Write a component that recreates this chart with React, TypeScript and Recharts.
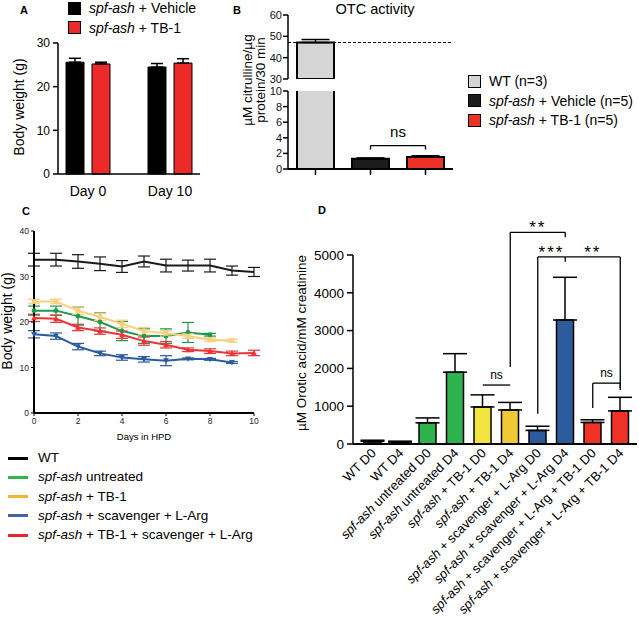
import React from "react";
import { Bar, BarChart, Cell, ErrorBar, Line, LineChart, ReferenceLine, XAxis, YAxis } from "recharts";

const FONT = '"Liberation Sans", Arial, Helvetica, sans-serif';

// A: body weight, day 0 vs day 10
const daysA = ["Day 0", "Day 10"];
const vehicleA = [25.6, 24.5];
const vehicleErrA = [0.9, 0.8];
const tb1A = [25.2, 25.4];
const tb1ErrA = [0.4, 1.0];

// B: OTC activity
const groupsB = ["WT (n=3)", "spf-ash + Vehicle (n=5)", "spf-ash + TB-1 (n=5)"];
const otcB = [47.1, 1.32, 1.55];
const otcErrB = [1.4, 0.1, 0.15];
const ticksBHigh = [30, 40, 50, 60];
const ticksBLow = [0, 2, 4, 6, 8, 10];

// C: body weight over days in HPD
const daysC = [0, 1, 2, 3, 4, 5, 6, 7, 8, 9, 10];
const wtC = [33.7, 33.7, 33.3, 32.8, 32.2, 33.3, 32.4, 32.4, 32.4, 31.3, 31.0];
const wtErrC = [1.4, 1.4, 1.5, 1.5, 1.3, 1.2, 1.4, 1.2, 1.4, 1.0, 1.0];
const untreatedC = [22.5, 22.5, 21.3, 20.0, 18.0, 16.9, 16.9, 17.7, 17.2];
const untreatedErrC = [1.0, 1.0, 2.0, 2.0, 2.1, 1.6, 1.6, 2.2, 0.3];
const tb1C = [24.5, 24.5, 22.5, 21.1, 19.6, 18.0, 17.5, 16.9, 16.1, 15.9];
const tb1ErrC = [0.5, 0.5, 0.8, 0.8, 0.8, 0.8, 0.6, 0.5, 0.4, 0.3];
const scavC = [17.3, 16.9, 14.6, 13.1, 12.2, 11.8, 11.5, 11.9, 11.8, 11.1];
const scavErrC = [0.8, 0.7, 0.7, 0.5, 0.6, 0.6, 1.1, 0.2, 0.2, 0.2];
const comboC = [20.9, 20.7, 18.8, 18.0, 17.2, 15.8, 15.0, 13.9, 13.6, 13.1, 13.2];
const comboErrC = [0.8, 0.8, 0.7, 0.7, 0.8, 0.9, 0.7, 0.4, 0.5, 0.5, 0.6];
const namesC = [
  "WT",
  "spf-ash untreated",
  "spf-ash + TB-1",
  "spf-ash + scavenger + L-Arg",
  "spf-ash + TB-1 + scavenger + L-Arg",
];

// D: urinary orotic acid
const labelsD = [
  "WT D0",
  "WT D4",
  "spf-ash untreated D0",
  "spf-ash untreated D4",
  "spf-ash + TB-1 D0",
  "spf-ash + TB-1 D4",
  "spf-ash + scavenger + L-Arg D0",
  "spf-ash + scavenger + L-Arg D4",
  "spf-ash + scavenger + L-Arg + TB-1 D0",
  "spf-ash + scavenger + L-Arg + TB-1 D4",
];
const oroticD = [70, 50, 560, 1900, 980, 900, 360, 3280, 570, 875];
const oroticErrD = [30, 25, 130, 490, 320, 200, 110, 1130, 70, 360];
// comparisons: bar a, bar b, bracket level, foot at a, foot at b
const sigD = [
  { a: 4, b: 5, top: 1560, footA: 1560, footB: 1560, text: "ns" },
  { a: 5, b: 7, top: 5600, footA: 2040, footB: 5470, text: "**" },
  { a: 6, b: 7, top: 4950, footA: 800, footB: 4820, text: "***" },
  { a: 7, b: 9, top: 4950, footA: 4950, footB: 1480, text: "**" },
  { a: 8, b: 9, top: 1610, footA: 950, footB: 1430, text: "ns" },
];

const RED = "#ec2a2a";
const colorsB = ["#d5d5d5", "#1c1c1c", "#ec3226"];
const colorsD = ["#231f20", "#231f20", "#2db34b", "#2db34b", "#f2e43c", "#f0ca35", "#2d5c9d", "#2d5c9d", "#ee3326", "#ee3326"];

function Spf({ text }: { text: string }) {
  if (!text.startsWith("spf-ash")) return <>{text}</>;
  return (
    <>
      <i>spf-ash</i>
      {text.slice(7)}
    </>
  );
}

const rotLabel = (lines: string[], x: number, y: number, size: number) => () => (
  <g>
    {lines.map((t, i) => {
      const lx = x + i * size * 0.95;
      return (
        <text key={i} x={lx} y={y} transform={`rotate(-90 ${lx} ${y})`} textAnchor="middle" fontSize={size} fill="#000">
          {t}
        </text>
      );
    })}
  </g>
);

// plain y tick, drawn by hand so none get dropped
function SmallYTick({ x, y, payload }: any) {
  return (
    <text x={x} y={y} dy={4} textAnchor="end" fontSize={11} fill="#111">
      {payload.value}
    </text>
  );
}

function RotTick({ x, y, payload }: any) {
  const label: string = payload.value;
  const spf = label.startsWith("spf-ash");
  return (
    <g transform={`translate(${x + 4},${y + 4})`}>
      <text textAnchor="end" transform="rotate(-45)" fontSize={13} fill="#000" style={{ whiteSpace: "pre" }}>
        {spf ? (
          <>
            <tspan fontStyle="italic">spf-ash</tspan>
            <tspan>{label.slice(7)}</tspan>
          </>
        ) : (
          label
        )}
      </text>
    </g>
  );
}

function Marker({ cx, cy, color, shape }: any) {
  if (cx == null || cy == null) return null;
  const s = 2.4;
  if (shape === "square") return <rect x={cx - s} y={cy - s} width={2 * s} height={2 * s} fill={color} />;
  if (shape === "up") return <path d={`M${cx},${cy - s - 0.5}L${cx + s + 0.5},${cy + s}L${cx - s - 0.5},${cy + s}Z`} fill={color} />;
  if (shape === "down") return <path d={`M${cx},${cy + s + 0.5}L${cx + s + 0.5},${cy - s}L${cx - s - 0.5},${cy - s}Z`} fill={color} />;
  if (shape === "none") return <g />;
  return <circle cx={cx} cy={cy} r={s} fill={color} />;
}

const AX = { stroke: "#000", strokeWidth: 1.5 };

function PanelA() {
  const data = daysA.map((day, i) => ({
    day,
    vehicle: vehicleA[i],
    vehicleErr: [0, vehicleErrA[i]],
    tb1: tb1A[i],
    tb1Err: [0, tb1ErrA[i]],
  }));
  return (
    <div style={{ position: "absolute", left: 0, top: 0 }}>
      <BarChart width={215} height={205} data={data} margin={{ top: 43, right: 15, bottom: 0, left: 0 }} barGap={8} barSize={18}>
        <XAxis
          dataKey="day"
          interval={0}
          tickLine={false}
          axisLine={AX}
          tick={{ fontSize: 14, fill: "#000" }}
          tickSize={0}
          tickMargin={12}
          height={31}
          padding={{ left: -11, right: -11 }}
        />
        <YAxis
          domain={[0, 30]}
          ticks={[0, 10, 20, 30]}
          interval={0}
          width={58}
          tickSize={5}
          tickMargin={3}
          tick={{ fontSize: 12, fill: "#000" }}
          axisLine={AX}
          tickLine={AX}
          label={rotLabel(["Body weight (g)"], 24, 107, 14)}
        />
        <Bar dataKey="vehicle" fill="#000" stroke="#000" strokeWidth={1} isAnimationActive={false}>
          <ErrorBar dataKey="vehicleErr" direction="y" width={6} stroke="#000" strokeWidth={1.5} />
        </Bar>
        <Bar dataKey="tb1" fill={RED} stroke="#000" strokeWidth={1} isAnimationActive={false}>
          <ErrorBar dataKey="tb1Err" direction="y" width={6} stroke="#000" strokeWidth={1.5} />
        </Bar>
      </BarChart>
    </div>
  );
}

// broken axis: two stacked charts that share the categories
function PanelB() {
  const data = groupsB.map((g, i) => ({
    g,
    lower: otcB[i],
    upper: otcB[i] >= 30 ? otcB[i] : null,
    err: [0, otcErrB[i]],
  }));
  const bracket = { stroke: "#000", strokeWidth: 1.3 };
  return (
    <>
      <div style={{ position: "absolute", left: 220, top: 0 }}>
        <BarChart width={245} height={85} data={data} margin={{ top: 15, right: 12, bottom: 6, left: 0 }} barSize={37}>
          <XAxis dataKey="g" hide />
          <YAxis
            type="number"
            domain={[30, 60]}
            ticks={ticksBHigh}
            interval={0}
            minTickGap={0}
            allowDataOverflow
            width={68}
            tickSize={5}
            tickMargin={1}
            tick={(p: any) => <SmallYTick {...p} />}
            axisLine={AX}
            tickLine={AX}
          />
          <Bar dataKey="upper" stroke="#000" strokeWidth={2} isAnimationActive={false}>
            {data.map((d, i) => (
              <Cell key={i} fill={colorsB[i]} />
            ))}
            <ErrorBar dataKey="err" direction="y" width={14} stroke="#000" strokeWidth={1.5} />
          </Bar>
          <ReferenceLine y={otcB[0]} stroke="#000" strokeWidth={1.2} strokeDasharray="3 2" />
        </BarChart>
      </div>
      <div style={{ position: "absolute", left: 220, top: 85 }}>
        <BarChart width={245} height={115} data={data} margin={{ top: 6, right: 12, bottom: 0, left: 0 }} barSize={37}>
          <XAxis
            dataKey="g"
            interval={0}
            height={31}
            tickSize={6}
            tickFormatter={() => ""}
            tickLine={AX}
            axisLine={{ stroke: "#000", strokeWidth: 2 }}
          />
          <YAxis
            type="number"
            domain={[0, 10]}
            ticks={ticksBLow}
            interval={0}
            minTickGap={0}
            allowDataOverflow
            width={68}
            tickSize={5}
            tickMargin={1}
            tick={(p: any) => <SmallYTick {...p} />}
            axisLine={AX}
            tickLine={AX}
          />
          <Bar dataKey="lower" stroke="#000" strokeWidth={2} isAnimationActive={false}>
            {data.map((d, i) => (
              <Cell key={i} fill={colorsB[i]} />
            ))}
            <ErrorBar dataKey="err" direction="y" width={14} stroke="#000" strokeWidth={1.5} />
          </Bar>
          <ReferenceLine segment={[{ x: groupsB[1], y: 2.5 }, { x: groupsB[1], y: 3 }]} {...bracket} />
          <ReferenceLine segment={[{ x: groupsB[2], y: 2.5 }, { x: groupsB[2], y: 3 }]} {...bracket} />
          <ReferenceLine
            segment={[{ x: groupsB[1], y: 3 }, { x: groupsB[2], y: 3 }]}
            {...bracket}
            label={{ value: "ns", position: "top", offset: 9, fontSize: 15, fill: "#000" }}
          />
        </BarChart>
      </div>
      {/* axis title spans both halves of the broken axis */}
      <div
        style={{
          position: "absolute",
          left: 254,
          top: 80,
          transform: "translate(-50%, -50%) rotate(-90deg)",
          fontSize: 13.5,
          lineHeight: "13px",
          textAlign: "center",
          whiteSpace: "nowrap",
        }}
      >
        µM citrulline/µg
        <br />
        protein/30 min
      </div>
    </>
  );
}

function PanelC() {
  const build = (vals: number[], errs: number[]) => vals.map((v, i) => ({ day: daysC[i], v, e: errs[i] }));
  const series = [
    { data: build(wtC, wtErrC), color: "#1a1a1a", shape: "none" },
    { data: build(untreatedC, untreatedErrC), color: "#1d9a4a", shape: "circle" },
    { data: build(tb1C, tb1ErrC), color: "#fbcf7c", shape: "square" },
    { data: build(scavC, scavErrC), color: "#2b5c9f", shape: "down" },
    { data: build(comboC, comboErrC), color: "#ec3237", shape: "up" },
  ];
  const tick = { fontSize: 8.5, fill: "#222" };
  return (
    <div style={{ position: "absolute", left: 0, top: 205 }}>
      <LineChart width={265} height={245} margin={{ top: 26, right: 11, bottom: 0, left: 0 }}>
        <XAxis
          type="number"
          dataKey="day"
          domain={[0, 10]}
          ticks={[0, 2, 4, 6, 8, 10]}
          interval={0}
          height={37}
          tickSize={3}
          tickMargin={2}
          tick={tick}
          axisLine={{ stroke: "#000", strokeWidth: 2 }}
          tickLine={{ stroke: "#000", strokeWidth: 1 }}
          label={{ value: "Days in HPD", position: "insideBottom", offset: 10, fontSize: 9.5, fill: "#000" }}
        />
        <YAxis
          domain={[0, 40]}
          ticks={[0, 10, 20, 30, 40]}
          interval={0}
          width={34}
          tickSize={3}
          tickMargin={2}
          tick={tick}
          axisLine={{ stroke: "#000", strokeWidth: 2 }}
          tickLine={{ stroke: "#000", strokeWidth: 1 }}
          label={rotLabel(["Body weight (g)"], 12, 116, 14)}
        />
        {series.map((s, k) => (
          <Line
            key={k}
            data={s.data}
            dataKey="v"
            type="linear"
            stroke={s.color}
            strokeWidth={2}
            dot={(p: any) => <Marker key={p.index} cx={p.cx} cy={p.cy} color={s.color} shape={s.shape} />}
            isAnimationActive={false}
          >
            <ErrorBar dataKey="e" direction="y" width={6} stroke={s.color} strokeWidth={1.2} />
          </Line>
        ))}
      </LineChart>
    </div>
  );
}

function PanelD() {
  const data = labelsD.map((name, i) => ({ name, v: oroticD[i], err: [0, oroticErrD[i]] }));
  const line = { stroke: "#000", strokeWidth: 1.3, ifOverflow: "visible" as const };
  return (
    <div style={{ position: "absolute", left: 290, top: 205 }}>
      <BarChart width={349} height={428} data={data} margin={{ top: 50, right: 2, bottom: 0, left: 0 }} barSize={17}>
        <XAxis
          dataKey="name"
          interval={0}
          height={189}
          tickSize={0}
          tickMargin={6}
          tickLine={false}
          axisLine={{ stroke: "#000", strokeWidth: 2 }}
          tick={(p: any) => <RotTick {...p} />}
          padding={{ left: 6, right: 3 }}
        />
        <YAxis
          domain={[0, 5000]}
          ticks={[0, 1000, 2000, 3000, 4000, 5000]}
          interval={0}
          width={63}
          tickSize={6}
          tickMargin={3}
          tick={{ fontSize: 13.5, fill: "#000" }}
          axisLine={AX}
          tickLine={AX}
          label={rotLabel(["µM Orotic acid/mM creatinine"], 16, 138, 13.5)}
        />
        <Bar dataKey="v" stroke="#000" strokeWidth={1.5} isAnimationActive={false}>
          {data.map((d, i) => (
            <Cell key={i} fill={colorsD[i]} />
          ))}
          <ErrorBar dataKey="err" direction="y" width={12} stroke="#000" strokeWidth={1.5} />
        </Bar>
        {sigD.map((s, k) => {
          const stars = s.text !== "ns";
          return (
            <React.Fragment key={k}>
              {s.footA !== s.top && (
                <ReferenceLine segment={[{ x: labelsD[s.a], y: s.footA }, { x: labelsD[s.a], y: s.top }]} {...line} />
              )}
              <ReferenceLine
                segment={[{ x: labelsD[s.a], y: s.top }, { x: labelsD[s.b], y: s.top }]}
                {...line}
                label={{
                  value: s.text,
                  position: "top",
                  offset: stars ? -1 : 6,
                  fontSize: stars ? 17 : 12,
                  letterSpacing: stars ? 2 : 0,
                  fill: "#000",
                }}
              />
              {s.footB !== s.top && (
                <ReferenceLine segment={[{ x: labelsD[s.b], y: s.top }, { x: labelsD[s.b], y: s.footB }]} {...line} />
              )}
            </React.Fragment>
          );
        })}
      </BarChart>
    </div>
  );
}

function Letter({ ch, left, top }: { ch: string; left: number; top: number }) {
  return <div style={{ position: "absolute", left, top, fontSize: 11, fontWeight: "bold", lineHeight: "11px" }}>{ch}</div>;
}

function SwatchRow({ label, color, left, top, size }: any) {
  return (
    <div style={{ position: "absolute", left, top, display: "flex", alignItems: "center", fontSize: 14, lineHeight: "14px", whiteSpace: "pre" }}>
      <span style={{ width: size, height: size, background: color, border: "1px solid #000", boxSizing: "border-box", marginRight: 8 }} />
      <span>
        <Spf text={label} />
      </span>
    </div>
  );
}

export default function App() {
  const legendA = [
    { label: "spf-ash + Vehicle", color: "#000" },
    { label: "spf-ash + TB-1", color: RED },
  ];
  const legendC = ["#000", "#31b44b", "#f8b334", "#3f67a5", "#e8262b"];
  return (
    <div
      style={{
        position: "absolute",
        left: 0,
        top: 0,
        width: 639,
        height: 633,
        background: "#fff",
        fontFamily: FONT,
        color: "#000",
        overflow: "hidden",
      }}
    >
      <PanelA />
      <PanelB />
      <PanelC />
      <PanelD />

      <Letter ch="A" left={20} top={5} />
      <Letter ch="B" left={233} top={5} />
      <Letter ch="C" left={22} top={206} />
      <Letter ch="D" left={318} top={205} />

      {legendA.map((r, i) => (
        <SwatchRow key={i} label={r.label} color={r.color} left={68} top={1 + i * 19.5} size={13} />
      ))}

      <div style={{ position: "absolute", left: 300, top: 1, width: 150, textAlign: "center", fontSize: 14.5, lineHeight: "16px" }}>
        OTC activity
      </div>
      {groupsB.map((g, i) => (
        <SwatchRow key={i} label={g} color={colorsB[i]} left={468} top={74 + i * 19.5} size={13} />
      ))}

      {namesC.map((n, i) => (
        <div
          key={i}
          style={{ position: "absolute", left: 8, top: 451 + i * 19.3, display: "flex", alignItems: "center", fontSize: 13.5, lineHeight: "14px", whiteSpace: "pre" }}
        >
          <span style={{ width: 20, height: 3, background: legendC[i], marginRight: 10 }} />
          <span>
            <Spf text={n} />
          </span>
        </div>
      ))}
    </div>
  );
}
